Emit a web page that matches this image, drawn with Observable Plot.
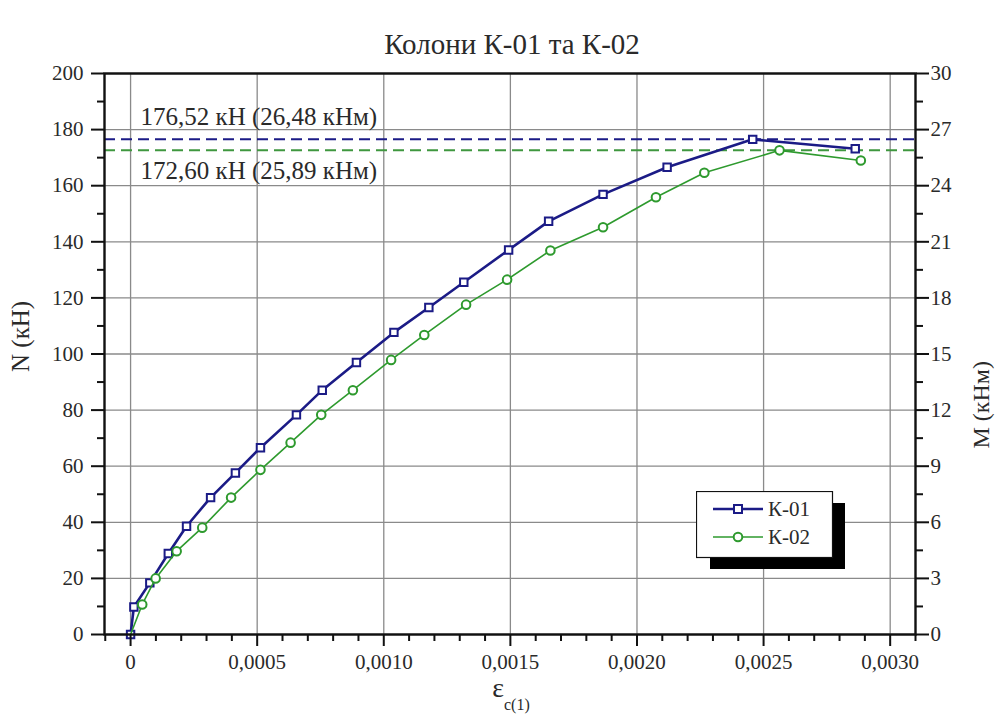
<!DOCTYPE html>
<html>
<head>
<meta charset="utf-8">
<script src="https://cdn.jsdelivr.net/npm/d3@7"></script>
<script src="https://cdn.jsdelivr.net/npm/@observablehq/plot@0.6"></script>
<style>
  html, body { margin: 0; padding: 0; background: #fff; }
  #wrap { position: relative; width: 997px; height: 715px; font-family: "Liberation Serif", "Times New Roman", serif; }
  #wrap svg, #wrap svg text { font-family: "Liberation Serif", "Times New Roman", serif !important; }
  #legend { position: absolute; left: 696px; top: 491px; }
</style>
</head>
<body>
<div id="wrap"></div>
<script>
// ---- data ----
const title = "Колони К-01 та К-02";
const seriesNames = ["К-01", "К-02"];
const eps01 = [0, 0.000013, 0.000076, 0.000149, 0.000221, 0.000316, 0.000414, 0.000513, 0.000655, 0.000757, 0.000892, 0.00104, 0.001178, 0.001316, 0.001493, 0.001651, 0.001866, 0.002119, 0.002457, 0.002862];
const n01   = [0, 9.8, 18.4, 28.9, 38.6, 48.8, 57.6, 66.6, 78.3, 87.1, 97.0, 107.7, 116.6, 125.6, 137.1, 147.3, 156.9, 166.6, 176.52, 173.2];
const eps02 = [0, 0.000046, 0.000099, 0.000182, 0.000283, 0.000397, 0.000513, 0.000632, 0.000753, 0.000878, 0.001029, 0.00116, 0.001325, 0.001487, 0.001658, 0.001866, 0.002075, 0.002266, 0.002563, 0.002884];
const n02   = [0, 10.7, 20.0, 29.7, 38.1, 48.8, 58.7, 68.4, 78.3, 87.1, 97.9, 106.8, 117.6, 126.5, 136.9, 145.2, 155.9, 164.6, 172.6, 169.0];
const peakValues = [176.52, 172.60];
const peakLabels = ["176,52 кН (26,48 кНм)", "172,60 кН (25,89 кНм)"];
const xTicks = [0, 0.0005, 0.0010, 0.0015, 0.0020, 0.0025, 0.0030];
const xTickLabels = ["0", "0,0005", "0,0010", "0,0015", "0,0020", "0,0025", "0,0030"];
const xMinorTicks = [-0.0001, 0.0001, 0.0002, 0.0003, 0.0004, 0.0006, 0.0007, 0.0008, 0.0009, 0.0011, 0.0012, 0.0013, 0.0014, 0.0016, 0.0017, 0.0018, 0.0019, 0.0021, 0.0022, 0.0023, 0.0024, 0.0026, 0.0027, 0.0028, 0.0029, 0.0031];
const yTicks = [0, 20, 40, 60, 80, 100, 120, 140, 160, 180, 200];
const yTickLabels = ["0", "20", "40", "60", "80", "100", "120", "140", "160", "180", "200"];
const yMinorTicks = [10, 30, 50, 70, 90, 110, 130, 150, 170, 190];
const mTickLabels = ["0", "3", "6", "9", "12", "15", "18", "21", "24", "27", "30"];
const xLabel = "ε";
const xLabelSub = "c(1)";
const yLabel = "N (кН)";
const y2Label = "M (кНм)";

// ---- tables ----
const s01 = eps01.map((e, i) => ({eps: e, n: n01[i]}));
const s02 = eps02.map((e, i) => ({eps: e, n: n02[i]}));
const peaks = peakValues.map((v, i) => ({n: v, label: peakLabels[i], k: i}));

const blue = "#1b1b86";
const green = "#2e9a2e";
const ink = "#2a2a2a";
const font = "'Liberation Serif', 'Times New Roman', serif";

const chart = Plot.plot({
  width: 997,
  height: 715,
  marginLeft: 104,
  marginRight: 82,
  marginTop: 73,
  marginBottom: 81,
  style: {fontFamily: font, fontSize: "21px", color: ink, background: "#fff"},
  x: {domain: [-0.000103, 0.0031], label: null},
  y: {domain: [0, 200], label: null},
  marks: [
    Plot.gridX(xTicks, {stroke: "#8a8a8a", strokeOpacity: 1, strokeWidth: 1.3}),
    Plot.gridY(yTicks, {stroke: "#8a8a8a", strokeOpacity: 1, strokeWidth: 1.3}),
    Plot.ruleY(peaks.filter(d => d.k === 0), {y: "n", stroke: blue, strokeWidth: 2, strokeDasharray: "11,6"}),
    Plot.ruleY(peaks.filter(d => d.k === 1), {y: "n", stroke: "#3f973f", strokeWidth: 2, strokeDasharray: "11,6"}),
    Plot.text(peaks.filter(d => d.k === 0), {y: "n", text: "label", frameAnchor: "left", dx: 36, dy: -22, textAnchor: "start", fontSize: 25, fill: ink}),
    Plot.text(peaks.filter(d => d.k === 1), {y: "n", text: "label", frameAnchor: "left", dx: 36, dy: 21, textAnchor: "start", fontSize: 25, fill: ink}),
    Plot.line(s01, {x: "eps", y: "n", stroke: blue, strokeWidth: 2.6}),
    Plot.dot(s01, {x: "eps", y: "n", symbol: "square", r: 4.2, stroke: blue, strokeWidth: 2, fill: "white"}),
    Plot.line(s02, {x: "eps", y: "n", stroke: green, strokeWidth: 1.6}),
    Plot.dot(s02.filter((d, i) => i > 0), {x: "eps", y: "n", r: 4.3, stroke: green, strokeWidth: 2, fill: "white"}),
    // axes
    Plot.axisX({ticks: xTicks, tickSize: 12, tickPadding: 8, strokeWidth: 2, stroke: "#111", label: null,
      tickFormat: d => xTickLabels[xTicks.indexOf(d)]}),
    Plot.axisX({ticks: xMinorTicks, tickSize: 7, strokeWidth: 2, stroke: "#111", label: null, tickFormat: () => ""}),
    Plot.axisY({ticks: yTicks, anchor: "left", tickSize: 13, tickPadding: 8, strokeWidth: 2, stroke: "#111", label: null,
      tickFormat: d => yTickLabels[yTicks.indexOf(d)]}),
    Plot.axisY({ticks: yMinorTicks, anchor: "left", tickSize: 7, strokeWidth: 2, stroke: "#111", label: null, tickFormat: () => ""}),
    Plot.axisY({ticks: yTicks, anchor: "right", tickSize: 13, tickPadding: 2, strokeWidth: 2, stroke: "#111", label: null,
      tickFormat: d => mTickLabels[yTicks.indexOf(d)]}),
    Plot.axisY({ticks: yMinorTicks, anchor: "right", tickSize: 7, strokeWidth: 2, stroke: "#111", label: null, tickFormat: () => ""}),
    Plot.frame({stroke: "#111", strokeWidth: 2.4}),
    // titles
    Plot.text([title], {text: d => d, frameAnchor: "top", dx: 2, dy: -40, fontSize: 29, fill: ink}),
    Plot.text([yLabel], {text: d => d, frameAnchor: "left", dx: -84, dy: 18, rotate: -90, fontSize: 25, fill: ink}),
    Plot.text([y2Label], {text: d => d, frameAnchor: "right", dx: 66, dy: 7, rotate: -90, fontSize: 24, fill: ink}),
    Plot.text([xLabel], {text: d => d, frameAnchor: "bottom", dx: -12, dy: 62, fontSize: 28, fill: ink}),
    Plot.text([xLabelSub], {text: d => d, frameAnchor: "bottom", dx: -6, dy: 75, textAnchor: "start", fontSize: 16, fill: ink})
  ]
});
document.getElementById("wrap").appendChild(chart);

// ---- legend ----
const lg = d3.select("#wrap").append("svg").attr("id", "legend")
  .attr("width", 152).attr("height", 80);
lg.append("rect").attr("x", 14).attr("y", 12).attr("width", 135).attr("height", 66).attr("fill", "#000");
lg.append("rect").attr("x", 0.5).attr("y", 0.5).attr("width", 136).attr("height", 66).attr("fill", "#fff").attr("stroke", "#111").attr("stroke-width", 1.2);
const entries = [
  {name: seriesNames[0], color: blue, sym: "square", w: 2.6},
  {name: seriesNames[1], color: green, sym: "circle", w: 1.6}
];
entries.forEach((e, i) => {
  const y = 18 + i * 28;
  lg.append("line").attr("x1", 17).attr("x2", 67).attr("y1", y).attr("y2", y).attr("stroke", e.color).attr("stroke-width", e.w);
  if (e.sym === "square") {
    lg.append("rect").attr("x", 38).attr("y", y - 4).attr("width", 8).attr("height", 8).attr("fill", "#fff").attr("stroke", e.color).attr("stroke-width", 2);
  } else {
    lg.append("circle").attr("cx", 42).attr("cy", y).attr("r", 4.3).attr("fill", "#fff").attr("stroke", e.color).attr("stroke-width", 2);
  }
  lg.append("text").attr("x", 72).attr("y", y).attr("dy", "0.35em").attr("font-family", font).attr("font-size", 21).attr("fill", ink).text(e.name);
});
</script>
</body>
</html>
